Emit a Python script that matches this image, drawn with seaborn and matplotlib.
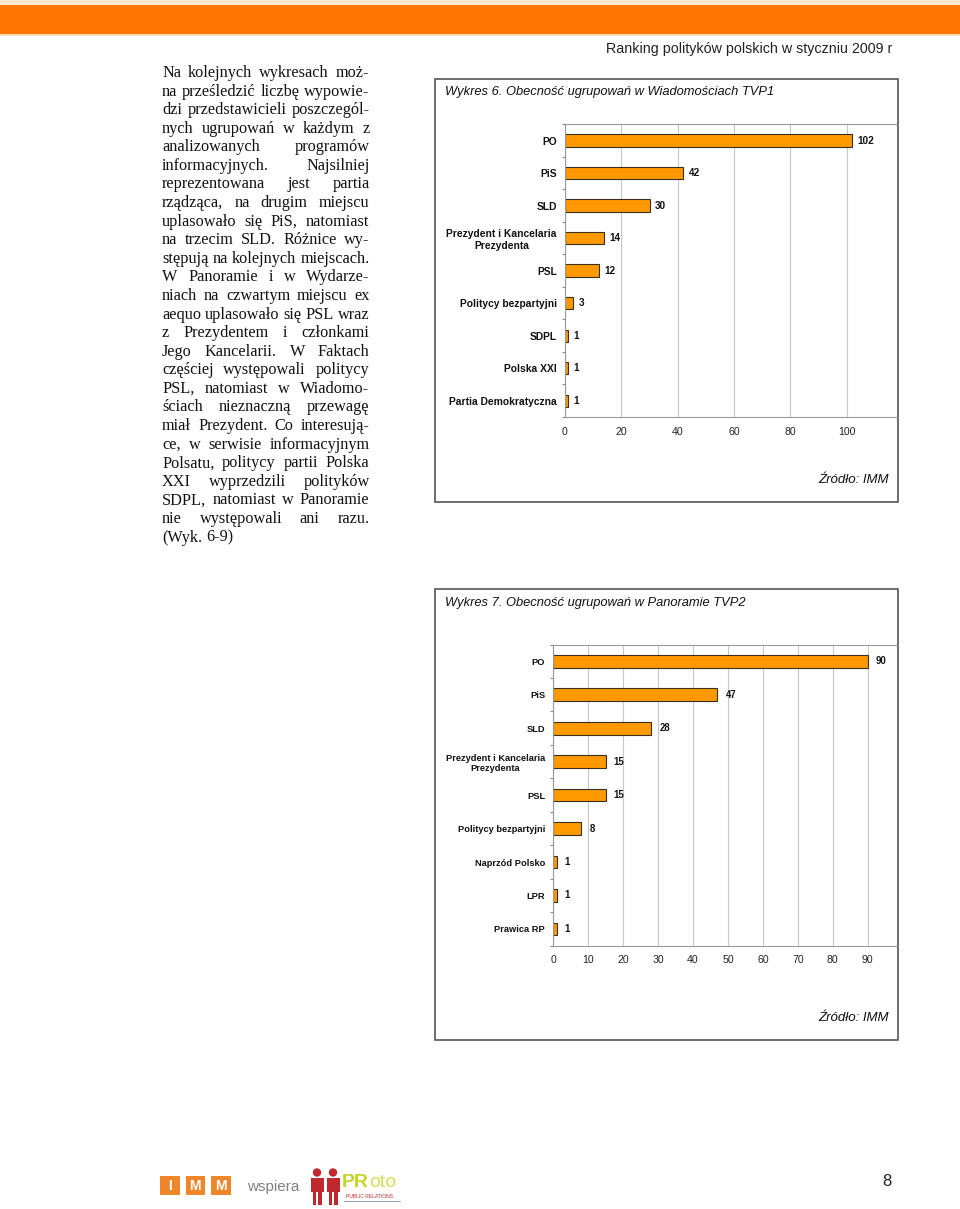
import matplotlib
matplotlib.use('Agg')
import matplotlib.pyplot as plt
import seaborn as sns
import pandas as pd
import numpy as np
from matplotlib.patches import Rectangle, Circle

W, H = 960, 1209

# ---------------- data ----------------
cats6 = ['PO', 'PiS', 'SLD', 'Prezydent i Kancelaria\nPrezydenta', 'PSL',
         'Politycy bezpartyjni', 'SDPL', 'Polska XXI', 'Partia Demokratyczna']
vals6 = [102, 42, 30, 14, 12, 3, 1, 1, 1]
ticks6 = [0, 20, 40, 60, 80, 100]

cats7 = ['PO', 'PiS', 'SLD', 'Prezydent i Kancelaria\nPrezydenta', 'PSL',
         'Politycy bezpartyjni', 'Naprzód Polsko', 'LPR', 'Prawica RP']
vals7 = [90, 47, 28, 15, 15, 8, 1, 1, 1]
ticks7 = [0, 10, 20, 30, 40, 50, 60, 70, 80, 90]

title6 = 'Wykres 6. Obecność ugrupowań w Wiadomościach TVP1'
title7 = 'Wykres 7. Obecność ugrupowań w Panoramie TVP2'
header = 'Ranking polityków polskich w styczniu 2009 r'
source = 'Źródło: IMM'

body_lines = [
    'Na kolejnych wykresach moż-',
    'na prześledzić liczbę wypowie-',
    'dzi przedstawicieli poszczegól-',
    'nych ugrupowań w każdym z',
    'analizowanych programów',
    'informacyjnych. Najsilniej',
    'reprezentowana jest partia',
    'rządząca, na drugim miejscu',
    'uplasowało się PiS, natomiast',
    'na trzecim SLD. Różnice wy-',
    'stępują na kolejnych miejscach.',
    'W Panoramie i w Wydarze-',
    'niach na czwartym miejscu ex',
    'aequo uplasowało się PSL wraz',
    'z Prezydentem i członkami',
    'Jego Kancelarii. W Faktach',
    'częściej występowali politycy',
    'PSL, natomiast w Wiadomo-',
    'ściach nieznaczną przewagę',
    'miał Prezydent. Co interesują-',
    'ce, w serwisie informacyjnym',
    'Polsatu, politycy partii Polska',
    'XXI wyprzedzili polityków',
    'SDPL, natomiast w Panoramie',
    'nie występowali ani razu.',
    '(Wyk. 6-9)',
]

# ---------------- setup ----------------
sns.set_theme(style='white')
plt.rcParams['font.family'] = ['Liberation Sans', 'DejaVu Sans']

fig = plt.figure(figsize=(9.6, 12.09), dpi=100)
fig.patch.set_facecolor('white')

bg = fig.add_axes([0, 0, 1, 1], zorder=0)
bg.set_xlim(0, W)
bg.set_ylim(H, 0)
bg.axis('off')


def axrect(l, t, r, b):
    return [l / W, 1 - b / H, (r - l) / W, (b - t) / H]


# header bar
bg.add_patch(Rectangle((0, 0), W, 4.5, color='#FFE6CC', lw=0))
bg.add_patch(Rectangle((0, 4.5), W, 29, color='#FF7602', lw=0))
bg.add_patch(Rectangle((0, 33.5), W, 2, color='#FFDDB8', lw=0))
bg.text(892, 49, header, ha='right', va='center', fontsize=10.3, color='#222222')

# chart boxes
bg.add_patch(Rectangle((434.5, 79), 897.5 - 434.5, 502 - 79, fill=False,
                       ec='#555555', lw=1.2))
bg.add_patch(Rectangle((434.5, 589), 897.5 - 434.5, 1040 - 589, fill=False,
                       ec='#555555', lw=1.2))
bg.text(445, 92, title6, style='italic', fontsize=9.3, va='center', color='#111111')
bg.text(445, 603, title7, style='italic', fontsize=9.3, va='center', color='#111111')
bg.text(889, 480, source, style='italic', fontsize=9.5, ha='right', va='center', color='#111111')
bg.text(889, 1018, source, style='italic', fontsize=9.5, ha='right', va='center', color='#111111')


def draw_chart(rect, cats, vals, xmax, ticks, pad_lbl, yfs, vfs):
    ax = fig.add_axes(rect, zorder=2)
    ax.patch.set_alpha(0)
    df = pd.DataFrame({'cat': cats, 'val': vals})
    sns.barplot(data=df, x='val', y='cat', orient='h', color='#FF9900',
                saturation=1, edgecolor='#3a3020', linewidth=0.8, width=0.38,
                ax=ax)
    ax.set_xlim(0, xmax)
    ax.set_xticks(ticks)
    ax.set_xlabel('')
    ax.set_ylabel('')
    ax.grid(axis='x', color='#c8c8c8', lw=0.8)
    ax.grid(axis='y', visible=False)
    ax.set_axisbelow(True)
    ax.tick_params(axis='y', which='major', length=0, pad=5.8, labelsize=yfs,
                   labelcolor='#111111')
    for lab in ax.get_yticklabels():
        lab.set_fontweight('bold')
        lab.set_multialignment('center')
    ax.set_yticks(np.arange(-0.5, len(cats) + 0.5), minor=True)
    ax.tick_params(axis='y', which='minor', left=True, length=2.5,
                   color='#888888', width=0.8, direction='out')
    ax.tick_params(axis='x', length=0, pad=7, labelsize=7.6, labelcolor='#222222')
    for s in ['left', 'bottom', 'top']:
        ax.spines[s].set_visible(True)
        ax.spines[s].set_color('#999999')
        ax.spines[s].set_linewidth(0.8)
    ax.spines['right'].set_visible(False)
    ax.bar_label(ax.containers[0], padding=pad_lbl, fontsize=vfs,
                 fontweight='bold', color='#111111')
    return ax


draw_chart(axrect(565, 124.3, 897.5, 417), cats6, vals6,
           (897.5 - 565) / 2.817, ticks6, 3.8, 7.4, 7.2)
draw_chart(axrect(553.3, 644.5, 897.5, 945.7), cats7, vals7,
           (897.5 - 553.3) / 3.493, ticks7, 5.8, 6.7, 6.9)

# ---------------- body text (justified) ----------------
renderer = fig.canvas.get_renderer()
SERIF = ['Liberation Serif', 'DejaVu Serif']
L, R = 162, 369.5


def width_of(s, fs):
    t = bg.text(0, 0, s, fontsize=fs, family=SERIF)
    w = t.get_window_extent(renderer).width
    t.remove()
    return w


# fit the font so the naturally full line spans the column
FS = 11.0
FS = FS * (R - L) / width_of(body_lines[10], FS) * 0.995

space_w = width_of('a a', FS) - width_of('aa', FS)
y0, dy = 72, 18.58
for i, line in enumerate(body_lines):
    yb = y0 + i * dy + 5
    words = line.split()
    ws = [width_of(w, FS) for w in words]
    if i == len(body_lines) - 1 or len(words) == 1:
        gap = space_w
    else:
        gap = (R - L - sum(ws)) / (len(words) - 1)
    x = L
    for w, ww in zip(words, ws):
        bg.text(x, yb, w, fontsize=FS, family=SERIF, va='baseline', ha='left',
                color='#111111')
        x += ww + gap

# ---------------- footer ----------------
for x0, letter in [(160, 'I'), (185.5, 'M'), (211, 'M')]:
    bg.add_patch(Rectangle((x0, 1175.5), 19.5, 19, color='#F0862A', lw=0))
    bg.text(x0 + 9.75, 1185.5, letter, color='white', fontweight='bold',
            fontsize=10, ha='center', va='center')
bg.text(247, 1187, 'wspiera', color='#808080', fontsize=11, va='center')

red = '#C0282D'
for cx in [317, 333]:
    bg.add_patch(Circle((cx, 1172.5), 4.2, color=red, lw=0))
    bg.add_patch(Rectangle((cx - 6.5, 1178), 13, 14, color=red, lw=0))
    bg.add_patch(Rectangle((cx - 4.5, 1191), 3.8, 14, color=red, lw=0))
    bg.add_patch(Rectangle((cx + 0.7, 1191), 3.8, 14, color=red, lw=0))

t_pr = bg.text(342, 1187, 'PR', color='#C5D42B', fontweight='bold',
               fontsize=14, va='baseline')
w_pr = t_pr.get_window_extent(renderer).width
bg.text(342 + w_pr, 1187, 'oto', color='#D2DE5A', fontsize=14, va='baseline')
bg.text(346, 1197, 'PUBLIC RELATIONS', color=red, fontsize=3.6, va='center')
bg.plot([344, 400], [1200.5, 1200.5], color='#8a98b8', lw=0.7)

bg.text(887, 1181, '8', ha='center', va='center', fontsize=12, color='#222222')

fig.savefig('out.png', dpi=100, facecolor='white')
